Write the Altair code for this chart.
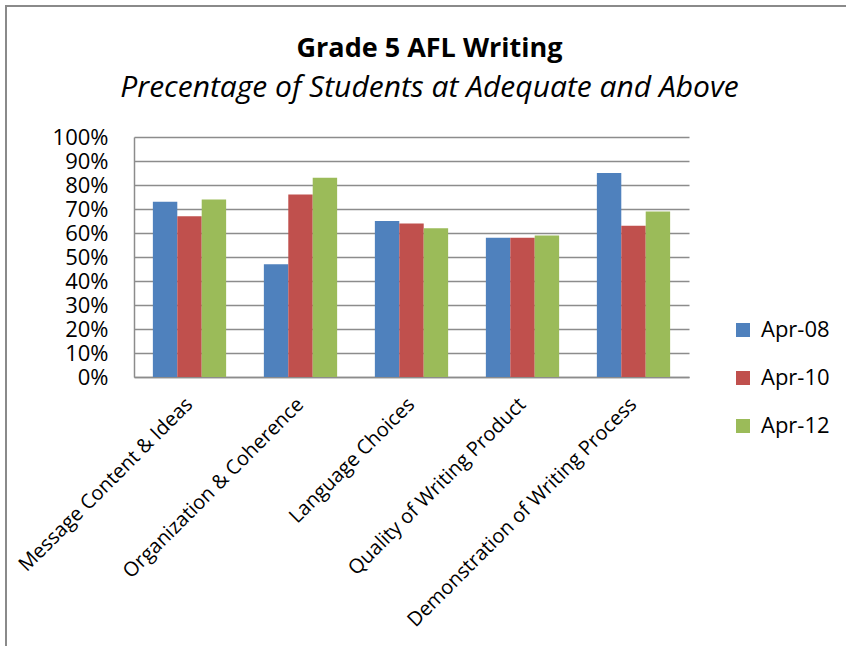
import altair as alt
import pandas as pd

categories = [
    "Message Content & Ideas",
    "Organization & Coherence",
    "Language Choices",
    "Quality of Writing Product",
    "Demonstration of Writing Process",
]
series = ["Apr-08", "Apr-10", "Apr-12"]
apr_08 = [0.73, 0.47, 0.65, 0.58, 0.85]
apr_10 = [0.67, 0.76, 0.64, 0.58, 0.63]
apr_12 = [0.74, 0.83, 0.62, 0.59, 0.69]
colors = ["#4F81BD", "#C0504D", "#9BBB59"]
y_ticks = [i / 10 for i in range(11)]

rows = []
for s, vals in zip(series, [apr_08, apr_10, apr_12]):
    for c, v in zip(categories, vals):
        rows.append({"Category": c, "Series": s, "Value": v})
df = pd.DataFrame(rows)

FONT = "Open Sans"
GRID = "#8c8c8c"

bars = alt.Chart(df).mark_bar().encode(
    x=alt.X(
        "Category:N",
        sort=categories,
        title=None,
        scale=alt.Scale(paddingInner=0.34, paddingOuter=0.17),
        axis=alt.Axis(
            labelAngle=-45,
            labelAlign="right",
            labelBaseline="middle",
            labelFontSize=20,
            labelPadding=24,
            ticks=False,
            domainColor=GRID,
            domainWidth=1.5,
            labelLimit=400,
        ),
    ),
    xOffset=alt.XOffset("Series:N", sort=series),
    y=alt.Y(
        "Value:Q",
        title=None,
        scale=alt.Scale(domain=[0, 1], nice=False),
        axis=alt.Axis(
            format=".0%",
            values=y_ticks,
            labelFontSize=22,
            labelPadding=26,
            ticks=False,
            grid=True,
            gridColor=GRID,
            gridWidth=1.5,
            domainColor=GRID,
            domainWidth=1.5,
        ),
    ),
    color=alt.Color(
        "Series:N",
        sort=series,
        scale=alt.Scale(domain=series, range=colors),
        legend=alt.Legend(
            title=None,
            orient="none",
            legendX=598,
            legendY=182,
            symbolType="square",
            symbolSize=196,
            symbolStrokeWidth=0,
            labelFontSize=22,
            labelOffset=7,
            rowPadding=26,
        ),
    ),
)

# outer chart frame (top and left edges)
frame_df = pd.DataFrame({"k": [0]})
left_edge = alt.Chart(frame_df).mark_rule(color="#8a8a8a", strokeWidth=2).encode(
    x=alt.value(-128), y=alt.value(-131), y2=alt.value(520)
)
top_edge = alt.Chart(frame_df).mark_rule(color="#8a8a8a", strokeWidth=2).encode(
    y=alt.value(-131), x=alt.value(-129), x2=alt.value(720)
)

chart = (
    alt.layer(bars, left_edge, top_edge)
    .properties(
        width=555,
        height=240,
        autosize=alt.AutoSizeParams(type="none"),
        padding={"left": 134, "top": 137, "right": 157, "bottom": 269},
        title=alt.TitleParams(
            text="Grade 5 AFL Writing",
            subtitle="Precentage of Students at Adequate and Above",
            fontSize=27,
            fontWeight="bold",
            subtitleFontSize=30,
            subtitleFontStyle="italic",
            subtitlePadding=10,
            font=FONT,
            subtitleFont=FONT,
            color="black",
            subtitleColor="black",
            anchor="middle",
            dx=18,
            offset=-99,
        ),
    )
    .configure(background="white")
    .configure_axis(labelFont=FONT, labelColor="black")
    .configure_legend(labelFont=FONT, labelColor="black")
    .configure_view(strokeWidth=0)
)

chart.save("out.html", embed_options={"renderer": "svg", "actions": False})
